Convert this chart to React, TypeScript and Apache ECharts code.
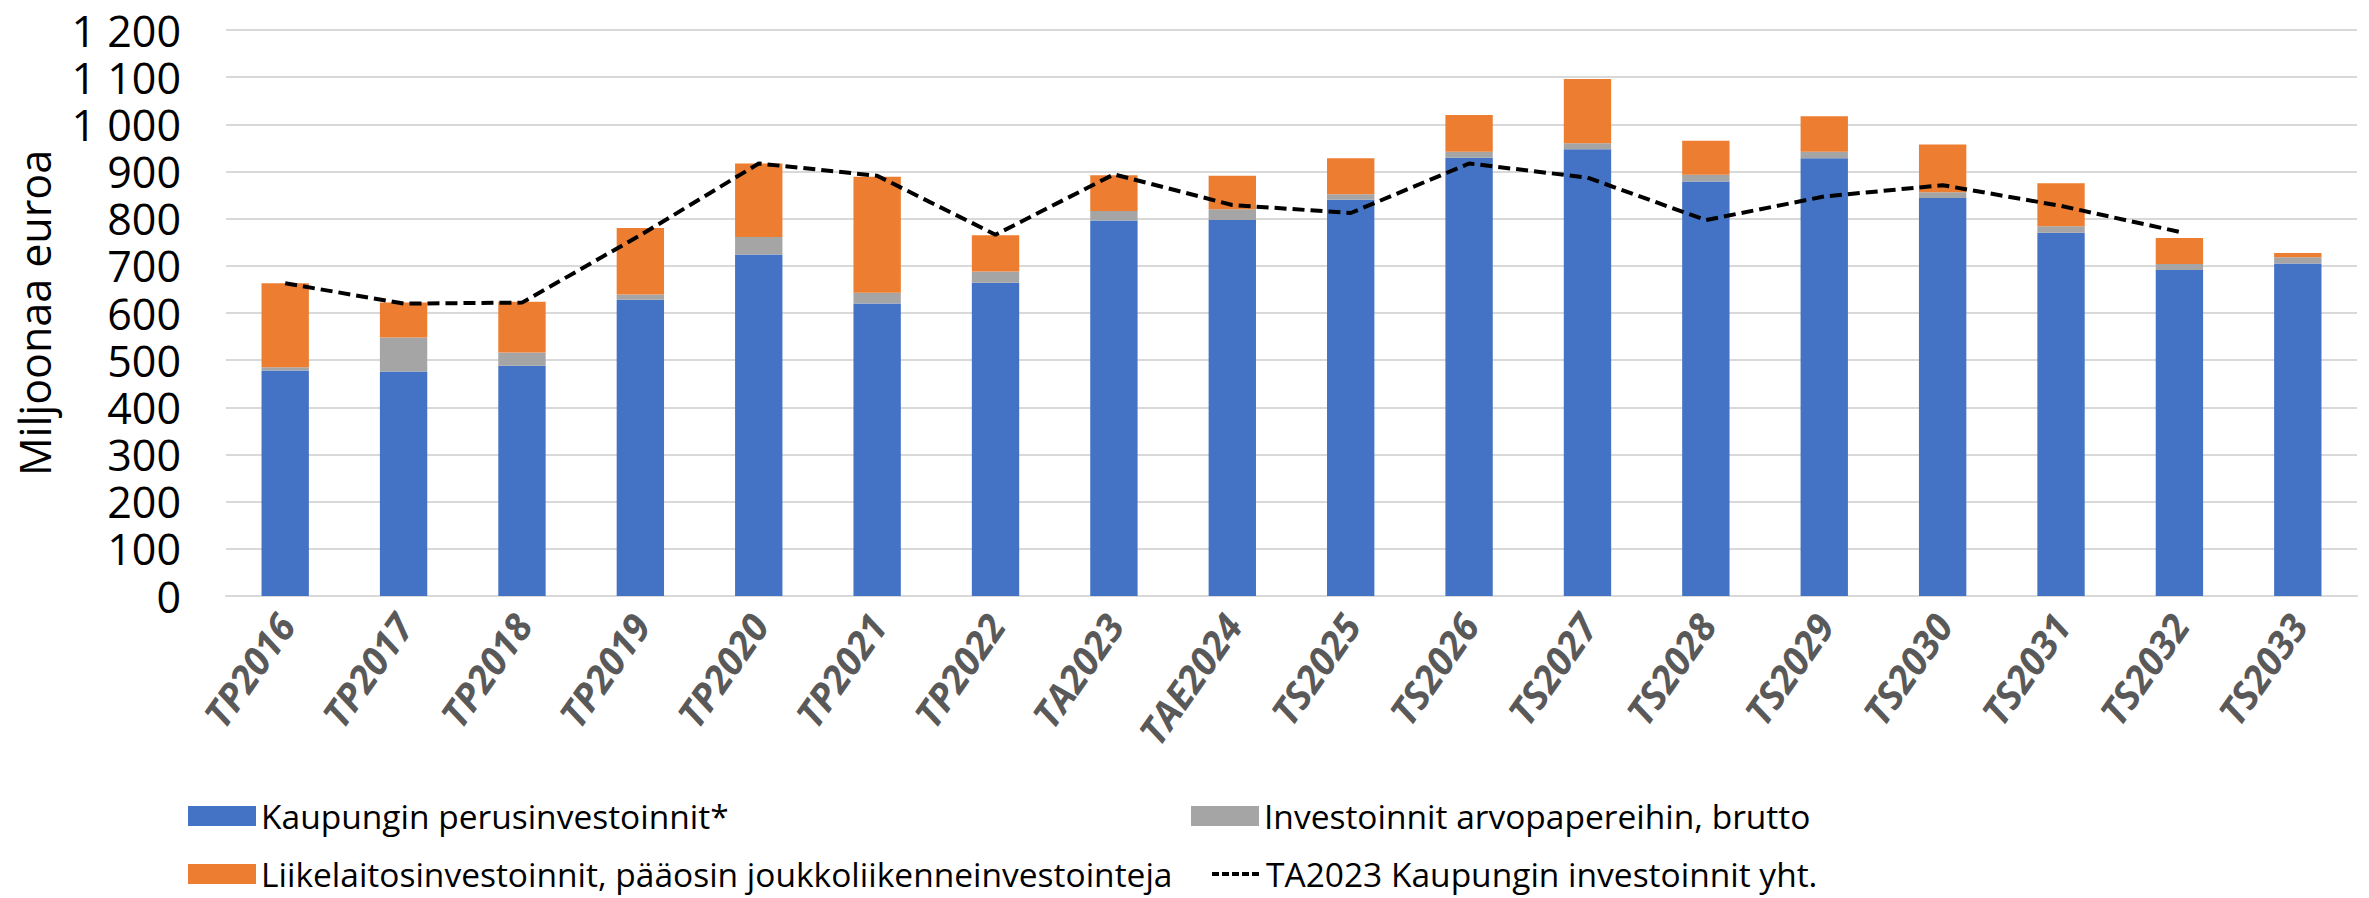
import React, { useEffect, useRef } from "react";
import * as echarts from "echarts";

const categories = [
  "TP2016", "TP2017", "TP2018", "TP2019", "TP2020", "TP2021", "TP2022", "TA2023", "TAE2024",
  "TS2025", "TS2026", "TS2027", "TS2028", "TS2029", "TS2030", "TS2031", "TS2032", "TS2033",
];
const perusinvestoinnit = [478, 476, 488, 628, 724, 620, 664, 796, 797, 840, 929, 947, 879, 928, 844, 770, 691, 705];
const arvopaperit = [7, 72, 28, 11, 37, 23, 24, 20, 23, 12, 13, 13, 14, 14, 12, 14, 13, 13];
const liikelaitos = [178, 74, 108, 141, 156, 246, 77, 76, 71, 76, 78, 136, 72, 75, 101, 91, 55, 9];
const ta2023Yht = [663, 620, 622, 765, 917, 891, 766, 894, 829, 812, 917, 887, 797, 847, 871, 827, 772, null];

const seriesNames = [
  "Kaupungin perusinvestoinnit*",
  "Investoinnit arvopapereihin, brutto",
  "Liikelaitosinvestoinnit, pääosin joukkoliikenneinvestointeja",
  "TA2023 Kaupungin investoinnit yht.",
];
const yAxisName = "Miljoonaa euroa";

const FONT = "'Open Sans', sans-serif";

function legendFor(name: string, left: number, top: number, w: number, extra: any = {}) {
  return {
    data: [name],
    left,
    top,
    padding: 0,
    itemWidth: w,
    itemHeight: 20,
    itemGap: 0,
    selectedMode: false,
    textStyle: { fontFamily: FONT, fontSize: 33.5, lineHeight: 34, color: "#000" },
    ...extra,
  };
}

export default function App() {
  const ref = useRef<HTMLDivElement>(null);
  useEffect(() => {
    document.body.style.margin = "0";
    const chart = echarts.init(ref.current!, null, { renderer: "svg" });
    chart.setOption({
      animation: false,
      textStyle: { fontFamily: FONT },
      grid: { left: 226, right: 12, top: 30, bottom: 302, containLabel: false },
      legend: [
        legendFor(seriesNames[0], 188, 799, 68, { icon: "rect" }),
        legendFor(seriesNames[1], 1191, 799, 68, { icon: "rect" }),
        legendFor(seriesNames[2], 188, 857, 68, { icon: "rect" }),
        legendFor(seriesNames[3], 1210, 857, 49, {
          itemStyle: { opacity: 0 },
          lineStyle: { type: [7, 3], width: 4, color: "#000" },
        }),
      ],
      xAxis: {
        type: "category",
        data: categories,
        axisTick: { show: false },
        axisLine: { lineStyle: { color: "#D9D9D9", width: 2 } },
        axisLabel: {
          rotate: 55,
          margin: 22,
          interval: 0,
          fontFamily: FONT,
          fontSize: 38,
          fontWeight: "bold",
          fontStyle: "italic",
          color: "#595959",
        },
      },
      yAxis: {
        type: "value",
        min: 0,
        max: 1200,
        interval: 100,
        name: yAxisName,
        nameLocation: "middle",
        nameGap: 170,
        nameTextStyle: { fontFamily: FONT, fontSize: 43, color: "#000" },
        axisLine: { show: false },
        axisTick: { show: false },
        splitLine: { lineStyle: { color: "#D9D9D9", width: 2 } },
        axisLabel: {
          margin: 45,
          fontFamily: FONT,
          fontSize: 43,
          lineHeight: 46,
          color: "#000",
          formatter: (v: number) => String(v).replace(/\B(?=(\d{3})+(?!\d))/g, " "),
        },
      },
      series: [
        {
          name: seriesNames[0],
          type: "bar",
          stack: "total",
          barWidth: "40%",
          data: perusinvestoinnit,
          itemStyle: { color: "#4472C4" },
        },
        {
          name: seriesNames[1],
          type: "bar",
          stack: "total",
          data: arvopaperit,
          itemStyle: { color: "#A5A5A5" },
        },
        {
          name: seriesNames[2],
          type: "bar",
          stack: "total",
          data: liikelaitos,
          itemStyle: { color: "#ED7D31" },
        },
        {
          name: seriesNames[3],
          type: "line",
          data: ta2023Yht,
          symbol: "none",
          connectNulls: false,
          lineStyle: { color: "#000", width: 4, type: [12, 6] },
          itemStyle: { color: "#000" },
          z: 5,
        },
      ],
    });
    return () => chart.dispose();
  }, []);
  return <div ref={ref} style={{ width: 2369, height: 898 }} />;
}
